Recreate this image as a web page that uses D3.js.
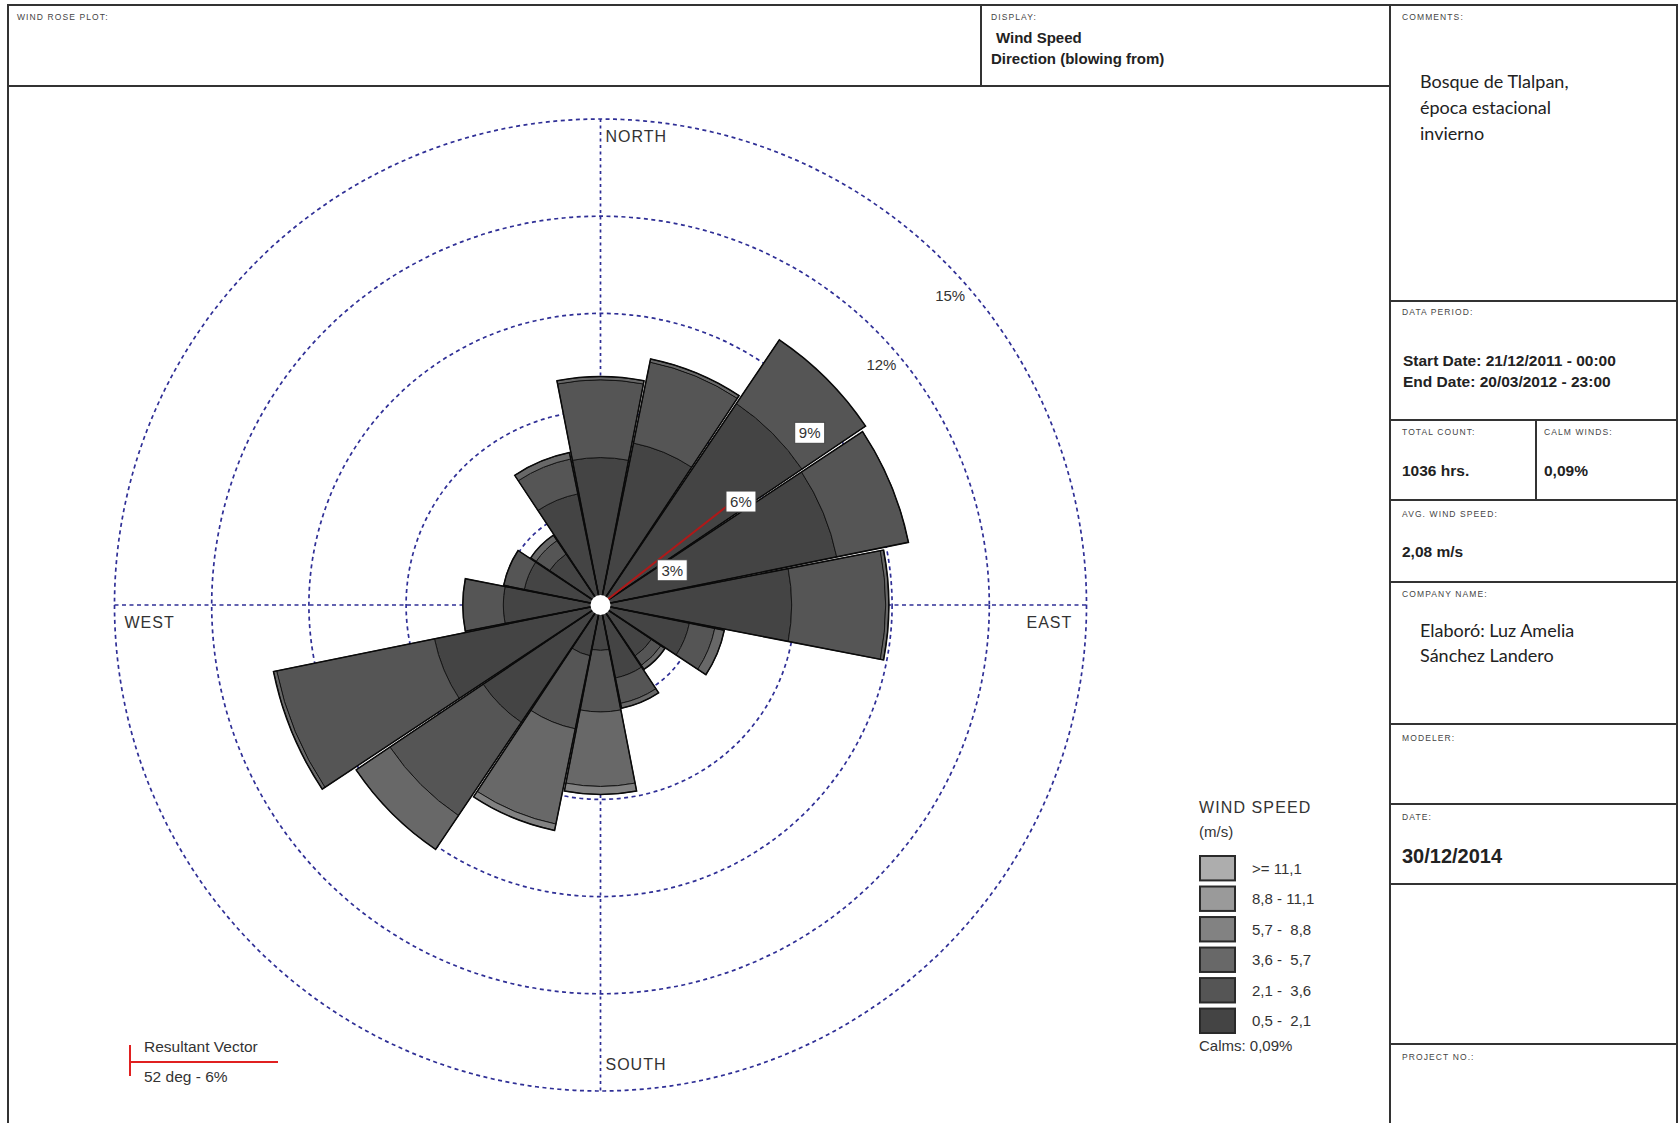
<!DOCTYPE html>
<html>
<head>
<meta charset="utf-8">
<script src="https://cdn.jsdelivr.net/npm/d3@7"></script>
<style>
  html, body { margin: 0; padding: 0; background: #fff; }
  svg { display: block; }
</style>
</head>
<body>
<svg id="chart" width="1679" height="1123"></svg>
<script>
// ---------------- DATA ----------------
const directions = ['N','NNE','NE','ENE','E','ESE','SE','SSE','S','SSW','SW','WSW','W','WNW','NW','NNW'];
const speedClasses = ['0,5 -  2,1','2,1 -  3,6','3,6 -  5,7','5,7 -  8,8','8,8 - 11,1','>= 11,1'];
const classColors = ['#444444','#555555','#686868','#828282','#9a9a9a','#adadad'];
// frequency (%) per direction for each speed class
const s05_21  = [4.55, 5.10, 7.50, 7.44, 5.90, 2.80, 1.90, 2.30, 1.40, 1.60, 4.37, 5.23, 3.00, 2.40, 1.90, 3.50];
const s21_36  = [2.40, 2.55, 2.37, 2.26, 2.90, 0.80, 0.35, 0.80, 1.90, 2.30, 3.47, 4.97, 1.25, 0.65, 0.50, 1.10];
const s36_57  = [0.10, 0.10, 0.00, 0.00, 0.10, 0.30, 0.15, 0.15, 2.30, 3.00, 1.26, 0.10, 0.00, 0.00, 0.20, 0.20];
const s57_88  = [0.00, 0.00, 0.00, 0.00, 0.00, 0.00, 0.00, 0.00, 0.25, 0.20, 0.00, 0.00, 0.00, 0.00, 0.00, 0.00];
const s88_111 = [0.00, 0.00, 0.00, 0.00, 0.00, 0.00, 0.00, 0.00, 0.00, 0.00, 0.00, 0.00, 0.00, 0.00, 0.00, 0.00];
const s111    = [0.00, 0.00, 0.00, 0.00, 0.00, 0.00, 0.00, 0.00, 0.00, 0.00, 0.00, 0.00, 0.00, 0.00, 0.00, 0.00];
const ringTicks = [3, 6, 9, 12, 15];
const compassLabels = ['NORTH', 'EAST', 'SOUTH', 'WEST'];
const resultantDeg = 52;
const resultantPct = 5.5;
const resultantText = '52 deg - 6%';
const calmsText = 'Calms: 0,09%';

// ---------------- SETUP ----------------
const svg = d3.select('#chart');
const FONT = '"Liberation Sans", Arial, sans-serif';
const CAL = 'Lato, "Open Sans", sans-serif';
const series = [s05_21, s21_36, s36_57, s57_88, s88_111, s111];

// --------- frame / info panel ----------
const lineCol = '#333';
const frame = svg.append('g').attr('stroke', lineCol).attr('stroke-width', 2).attr('fill', 'none');
frame.append('rect').attr('x', 8).attr('y', 5).attr('width', 1669).attr('height', 1140);
frame.append('line').attr('x1', 8).attr('x2', 1390).attr('y1', 86).attr('y2', 86);
frame.append('line').attr('x1', 981).attr('x2', 981).attr('y1', 5).attr('y2', 86);
frame.append('line').attr('x1', 1390).attr('x2', 1390).attr('y1', 5).attr('y2', 1130);
[301, 420, 500, 582, 724, 804, 884, 1044].forEach(y => {
  frame.append('line').attr('x1', 1390).attr('x2', 1677).attr('y1', y).attr('y2', y);
});
frame.append('line').attr('x1', 1536).attr('x2', 1536).attr('y1', 420).attr('y2', 500);

function small(x, y, t) {
  svg.append('text').attr('x', x).attr('y', y).text(t)
    .attr('font-family', FONT).attr('font-size', 8.5).attr('letter-spacing', 1.1)
    .attr('fill', '#444');
}
function txt(x, y, t, size, weight, fam, col) {
  return svg.append('text').attr('x', x).attr('y', y).text(t)
    .attr('font-family', fam || FONT).attr('font-size', size)
    .attr('font-weight', weight || 'normal').attr('fill', col || '#222');
}
small(17, 20, 'WIND ROSE PLOT:');
small(991, 20, 'DISPLAY:');
txt(996, 43, 'Wind Speed', 15, 'bold');
txt(991, 64, 'Direction (blowing from)', 15, 'bold');
small(1402, 20, 'COMMENTS:');
txt(1420, 88, 'Bosque de Tlalpan,', 18, 'normal', CAL);
txt(1420, 114, 'época estacional', 18, 'normal', CAL);
txt(1420, 140, 'invierno', 18, 'normal', CAL);
small(1402, 315, 'DATA PERIOD:');
txt(1403, 366, 'Start Date: 21/12/2011 - 00:00', 15.5, 'bold');
txt(1403, 387, 'End Date: 20/03/2012 - 23:00', 15.5, 'bold');
small(1402, 435, 'TOTAL COUNT:');
small(1544, 435, 'CALM WINDS:');
txt(1402, 476, '1036 hrs.', 15.5, 'bold');
txt(1544, 476, '0,09%', 15.5, 'bold');
small(1402, 517, 'AVG. WIND SPEED:');
txt(1402, 557, '2,08 m/s', 15.5, 'bold');
small(1402, 597, 'COMPANY NAME:');
txt(1420, 637, 'Elaboró: Luz Amelia', 18, 'normal', CAL);
txt(1420, 662, 'Sánchez Landero', 18, 'normal', CAL);
small(1402, 741, 'MODELER:');
small(1402, 820, 'DATE:');
txt(1402, 863, '30/12/2014', 20, 'bold');
small(1402, 1060, 'PROJECT NO.:');

// ---------------- ROSE ----------------
const cx = 600.5, cy = 605;
const r = d3.scaleLinear().domain([0, 15]).range([0, 486]);
const rose = svg.append('g').attr('transform', `translate(${cx},${cy})`);
const blue = '#2f2f96';

// rings & axes
rose.selectAll('circle.ring').data(ringTicks).join('circle')
  .attr('class', 'ring').attr('r', d => r(d))
  .attr('fill', 'none').attr('stroke', blue).attr('stroke-width', 1.7)
  .attr('stroke-dasharray', '4,3.5');
const R = r(d3.max(ringTicks));
rose.append('line').attr('x1', -R).attr('x2', R).attr('y1', 0).attr('y2', 0)
  .attr('stroke', blue).attr('stroke-width', 1.7).attr('stroke-dasharray', '4,3.5');
rose.append('line').attr('y1', -R).attr('y2', R).attr('x1', 0).attr('x2', 0)
  .attr('stroke', blue).attr('stroke-width', 1.7).attr('stroke-dasharray', '3,3.5');

// petals
const step = 2 * Math.PI / directions.length;
const gap = 0.009;
const arc = d3.arc();
const segs = [];
const petals = [];
directions.forEach((d, i) => {
  let cum = 0;
  series.forEach((s, k) => {
    const v = s[i];
    if (v > 0) {
      segs.push({ i, k, inner: cum, outer: cum + v });
      cum += v;
    }
  });
  petals.push({ i, total: cum });
});
const a0 = i => i * step - step / 2 + gap / 2;
const a1 = i => i * step + step / 2 - gap / 2;
rose.selectAll('path.seg').data(segs).join('path')
  .attr('class', 'seg')
  .attr('d', d => arc({ innerRadius: r(d.inner), outerRadius: r(d.outer), startAngle: a0(d.i), endAngle: a1(d.i) }))
  .attr('fill', d => classColors[d.k]).attr('stroke', '#111').attr('stroke-width', 0.9);
rose.selectAll('path.petal').data(petals).join('path')
  .attr('class', 'petal')
  .attr('d', d => arc({ innerRadius: 0, outerRadius: r(d.total), startAngle: a0(d.i), endAngle: a1(d.i) }))
  .attr('fill', 'none').attr('stroke', '#0a0a0a').attr('stroke-width', 1.5);

// compass labels
const compassPos = [
  { t: compassLabels[0], x: 5, y: -R + 23 },
  { t: compassLabels[1], x: R - 60, y: 23 },
  { t: compassLabels[2], x: 5, y: R - 21 },
  { t: compassLabels[3], x: -R + 10, y: 23 }
];
compassPos.forEach(p => {
  rose.append('text').attr('x', p.x).attr('y', p.y).text(p.t)
    .attr('font-family', FONT).attr('font-size', 16).attr('letter-spacing', 1)
    .attr('fill', '#333');
});

// resultant vector
const ra = resultantDeg * Math.PI / 180;
rose.append('line').attr('x1', 0).attr('y1', 0)
  .attr('x2', r(resultantPct) * Math.sin(ra)).attr('y2', -r(resultantPct) * Math.cos(ra))
  .attr('stroke', '#b01818').attr('stroke-width', 2);

// ring labels (along 45 deg)
const nePetal = petals[2].total;
ringTicks.forEach(t => {
  const px = r(t) * Math.SQRT1_2 + 3 + (t >= 12 ? 3 : 0);
  const py = -r(t) * Math.SQRT1_2 + 34;
  const g = rose.append('g').attr('transform', `translate(${px},${py})`);
  const boxed = t <= nePetal;
  g.append('rect').attr('x', -15).attr('y', -10.5).attr('width', 30).attr('height', 21)
    .attr('fill', '#fff').attr('stroke', boxed ? '#444' : 'none').attr('stroke-width', 1);
  g.append('text').attr('text-anchor', 'middle').attr('y', 5.5).text(t + '%')
    .attr('font-family', FONT).attr('font-size', 15).attr('fill', '#333');
});

// center calm circle
rose.append('circle').attr('r', 10).attr('fill', '#fff');

// ---------------- LEGEND ----------------
txt(1199, 813, 'WIND SPEED', 16, 'normal', FONT, '#333').attr('letter-spacing', 1.1);
txt(1199, 837, '(m/s)', 15, 'normal', FONT, '#333');
const legendOrder = d3.range(speedClasses.length).reverse();
const ly = d3.scaleBand().domain(legendOrder).range([856, 1033]).paddingInner(0.2);
const lg = svg.append('g');
lg.selectAll('rect').data(legendOrder).join('rect')
  .attr('x', 1200).attr('y', d => ly(d)).attr('width', 35).attr('height', ly.bandwidth())
  .attr('fill', d => classColors[d]).attr('stroke', '#2a2a2a').attr('stroke-width', 2);
lg.selectAll('text').data(legendOrder).join('text')
  .attr('x', 1252).attr('y', d => ly(d) + ly.bandwidth() / 2 + 5.5)
  .attr('xml:space', 'preserve').style('white-space', 'pre')
  .text(d => speedClasses[d])
  .attr('font-family', FONT).attr('font-size', 15).attr('fill', '#333');
txt(1199, 1051, calmsText, 15, 'normal', FONT, '#333');

// resultant legend
svg.append('line').attr('x1', 130).attr('x2', 130).attr('y1', 1045).attr('y2', 1076)
  .attr('stroke', '#e02020').attr('stroke-width', 2);
svg.append('line').attr('x1', 130).attr('x2', 278).attr('y1', 1062).attr('y2', 1062)
  .attr('stroke', '#e02020').attr('stroke-width', 2);
txt(144, 1052, 'Resultant Vector', 15.5, 'normal', FONT, '#333');
txt(144, 1082, resultantText, 15.5, 'normal', FONT, '#333');
</script>
</body>
</html>
